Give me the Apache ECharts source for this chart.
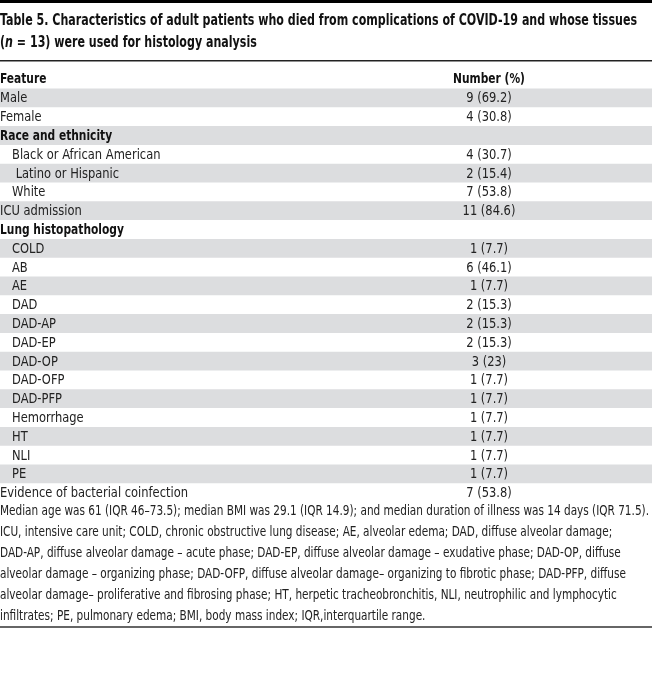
<!DOCTYPE html>
<html><head><meta charset="utf-8">
<script src="https://cdn.jsdelivr.net/npm/echarts@6/dist/echarts.min.js"></script>
<style>html,body{margin:0;padding:0;background:#fff}#c{width:652px;height:690px}</style>
</head><body><div id="c"></div>
<script>
const FONT = '"Liberation Sans Narrow","DejaVu Sans Condensed",sans-serif';
const features = ['Male','Female','Race and ethnicity','Black or African American',' Latino or Hispanic','White','ICU admission','Lung histopathology','COLD','AB','AE','DAD','DAD-AP','DAD-EP','DAD-OP','DAD-OFP','DAD-PFP','Hemorrhage','HT','NLI','PE','Evidence of bacterial coinfection'];
const numbers = ['9 (69.2)','4 (30.8)','','4 (30.7)','2 (15.4)','7 (53.8)','11 (84.6)','','1 (7.7)','6 (46.1)','1 (7.7)','2 (15.3)','2 (15.3)','2 (15.3)','3 (23)','1 (7.7)','1 (7.7)','1 (7.7)','1 (7.7)','1 (7.7)','1 (7.7)','7 (53.8)'];
const isHeading = [false,false,true,false,false,false,false,true,false,false,false,false,false,false,false,false,false,false,false,false,false,false];
const indented = [false,false,false,true,true,true,false,false,true,true,true,true,true,true,true,true,true,true,true,true,true,false];
const columnHeaders = ['Feature','Number (%)'];
const titleLines = ['Table 5. Characteristics of adult patients who died from complications of COVID-19 and whose tissues', ' = 13) were used for histology analysis'];
const footnoteLines = [
 'Median age was 61 (IQR 46–73.5); median BMI was 29.1 (IQR 14.9); and median duration of illness was 14 days (IQR 71.5).',
 'ICU, intensive care unit; COLD, chronic obstructive lung disease; AE, alveolar edema; DAD, diffuse alveolar damage;',
 'DAD-AP, diffuse alveolar damage – acute phase; DAD-EP, diffuse alveolar damage – exudative phase; DAD-OP, diffuse',
 'alveolar damage – organizing phase; DAD-OFP, diffuse alveolar damage– organizing to fibrotic phase; DAD-PFP, diffuse',
 'alveolar damage– proliferative and fibrosing phase; HT, herpetic tracheobronchitis, NLI, neutrophilic and lymphocytic',
 'infiltrates; PE, pulmonary edema; BMI, body mass index; IQR,interquartile range.'
];

const ctx = document.createElement('canvas').getContext('2d');
function measure(txt, font){ ctx.font = font; return ctx.measureText(txt).width; }
const ROWFS = 14.5, TITLEFS = 15.5, FOOTFS = 13.5;
const rowScale = 188 / measure('Evidence of bacterial coinfection', ROWFS+'px '+FONT);
const headScale = 72 / measure('Number (%)', 'bold '+ROWFS+'px '+FONT);
const titleScale = 637 / measure(titleLines[0], 'bold '+TITLEFS+'px '+FONT);
const footScale = 649 / measure(footnoteLines[0], FOOTFS+'px '+FONT);

const chart = echarts.init(document.getElementById('c'), null, {renderer:'canvas'});
const NUMX = 489;
const rowData = features.map((f,i)=>[0,i]);
chart.setOption({
  animation:false,
  grid:{left:0,right:0,top:88.5,height:features.length*18.8},
  xAxis:{type:'value',min:0,max:1,show:false},
  yAxis:{type:'category',inverse:true,data:features,show:false},
  series:[{
    type:'custom',
    coordinateSystem:'cartesian2d',
    data:rowData,
    renderItem:function(params,api){
      const i = api.value(1);
      const c = api.coord([0,i]);
      const h = api.size([0,1])[1];
      const cs = params.coordSys;
      const children = [];
      if(i%2===0){
        children.push({type:'rect',shape:{x:cs.x,y:c[1]-h/2,width:cs.width,height:h},style:{fill:'#dcdddf'}});
      }
      children.push({type:'text',x:cs.x+(indented[i]?12:0),y:c[1]+0.8,scaleX:isHeading[i]?headScale:rowScale,style:{text:features[i],fontFamily:FONT,fontSize:ROWFS,fontWeight:isHeading[i]?'bold':'normal',fill:isHeading[i]?'#111':'#222',verticalAlign:'middle',align:'left'}});
      if(numbers[i]){
        children.push({type:'text',x:NUMX,y:c[1]+0.8,scaleX:rowScale,style:{text:numbers[i],fontFamily:FONT,fontSize:ROWFS,fill:'#222',verticalAlign:'middle',align:'center'}});
      }
      return {type:'group',children:children};
    }
  }],
  graphic:[
    {type:'rect',left:0,top:0,shape:{width:652,height:3},style:{fill:'#000'}},
    {type:'text',x:0,y:21,scaleX:titleScale,style:{text:titleLines[0],fontFamily:FONT,fontSize:TITLEFS,fontWeight:'bold',fill:'#111',verticalAlign:'middle'}},
    {type:'text',x:0,y:42.5,scaleX:titleScale,style:{text:'({i|n}'+titleLines[1],fontFamily:FONT,fontSize:TITLEFS,fontWeight:'bold',fill:'#111',verticalAlign:'middle',
      rich:{i:{fontFamily:FONT,fontSize:TITLEFS,fontWeight:'bold',fontStyle:'italic',fill:'#111'}}}},
    {type:'rect',left:0,top:60,shape:{width:652,height:1.5},style:{fill:'#222'}},
    {type:'text',x:0,y:79,scaleX:headScale,style:{text:columnHeaders[0],fontFamily:FONT,fontSize:ROWFS,fontWeight:'bold',fill:'#111',verticalAlign:'middle'}},
    {type:'text',x:NUMX,y:79,scaleX:headScale,style:{text:columnHeaders[1],fontFamily:FONT,fontSize:ROWFS,fontWeight:'bold',fill:'#111',align:'center',verticalAlign:'middle'}},
    {type:'text',x:0,y:500.5,scaleX:footScale,style:{text:footnoteLines.join('\n'),fontFamily:FONT,fontSize:FOOTFS,lineHeight:21,fill:'#222',verticalAlign:'top'}},
    {type:'rect',left:0,top:626,shape:{width:652,height:2},style:{fill:'#666'}}
  ]
});
</script></body></html>
